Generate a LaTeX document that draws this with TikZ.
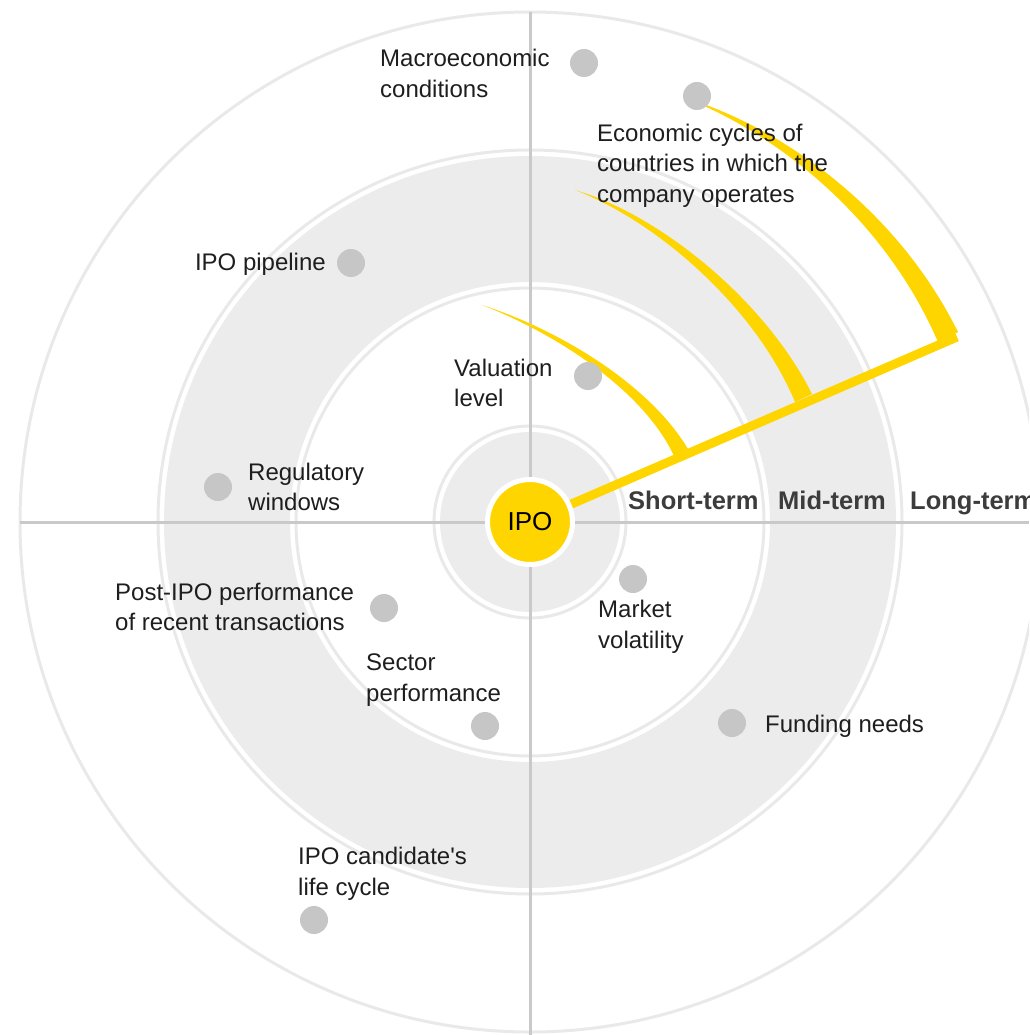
\documentclass[tikz,border=0pt]{standalone}
\usepackage{fontspec}
\setmainfont{Liberation Sans}
\usepackage{tikz}

\definecolor{EYyellow}{HTML}{FFD500}
\definecolor{bandgray}{HTML}{ECECEC}
\definecolor{ringgray}{HTML}{E9E9E9}
\definecolor{axisgray}{HTML}{C9C9C9}
\definecolor{dotgray}{HTML}{C6C6C6}
\definecolor{textblack}{HTML}{1E1E1E}
\definecolor{termgray}{HTML}{3C3C3C}

\begin{document}
\begin{tikzpicture}[x=1pt,y=-1pt]
			\tikzstyle{Ring}	= [draw=ringgray, line width=3pt]
			\tikzstyle{Band}	= [fill=bandgray]
			\tikzstyle{Axis}	= [draw=axisgray, line width=3pt]
			\tikzstyle{Arm}		= [fill=EYyellow]
			\tikzstyle{Dot}		= [circle, fill=dotgray, minimum size=28pt, inner sep=0pt]
			\tikzstyle{Label}	= [anchor=north west, align=left, inner sep=0pt, text=textblack, font=\fontsize{24}{30.7}\selectfont]
			\tikzstyle{Term}	= [anchor=base west, inner sep=0pt, text=termgray, font=\fontsize{25.5}{30}\selectfont\bfseries]
			\tikzstyle{Core}	= [circle, fill=EYyellow, draw=white, line width=5pt, minimum size=85pt, inner sep=0pt, text=black, font=\fontsize{26}{30}\selectfont]

			\useasboundingbox (0,0) rectangle (1029,1035);
			\clip (0,0) rectangle (1029,1035);

			\coordinate (c) at (530,522);
			\coordinate (top) at (530,12);
			\coordinate (bottom) at (530,1035);
			\coordinate (left) at (20,522);
			\coordinate (right) at (1029,522);
			\coordinate (lend) at (957,337);

			\draw (c) circle (510pt) [Ring];
			\fill [even odd rule] (c) circle (366pt) (c) circle (240pt) [Band];
			\draw (c) circle (372pt) [Ring];
			\draw (c) circle (234pt) [Ring];
			\fill (c) circle (90pt) [Band];
			\draw (c) circle (96pt) [Ring];

			\draw (top) -- (bottom) [Axis];
			\draw (left) -- (right) [Axis];

			\draw (c) -- (lend) [EYyellow, line width=9pt];
			\fill (482,305) .. controls (560,330) and (650,385) .. (688,449) -- (674,456) .. controls (644,391) and (557,334) .. (482,305) -- cycle [Arm];
			\fill (575,190) .. controls (660,215) and (765,300) .. (812,394) -- (795,402) .. controls (755,306) and (656,221) .. (575,190) -- cycle [Arm];
			\fill (683,97) .. controls (790,130) and (900,215) .. (958,332) -- (938,342) .. controls (887,224) and (785,137) .. (683,97) -- cycle [Arm];

			\node (ipo) at (c) [Core] {IPO};

			\node (dMacro) at (584,63) [Dot] {};
			\node (dCycles) at (697,96) [Dot] {};
			\node (dPipeline) at (351,263) [Dot] {};
			\node (dValuation) at (588,376) [Dot] {};
			\node (dRegulatory) at (218,487) [Dot] {};
			\node (dPostIPO) at (384,608) [Dot] {};
			\node (dSector) at (485,726) [Dot] {};
			\node (dVolatility) at (633,579) [Dot] {};
			\node (dFunding) at (732,723) [Dot] {};
			\node (dLifeCycle) at (314,920) [Dot] {};

			\node (tMacro) at (380,49) [Label] {Macroeconomic\\conditions};
			\node (tCycles) at (597,123.5) [Label] {Economic cycles of\\countries in which the\\company operates};
			\node (tPipeline) at (326,270) [Label, anchor=base east] {IPO pipeline};
			\node (tValuation) at (454,358.5) [Label] {Valuation\\level};
			\node (tRegulatory) at (248,462.5) [Label] {Regulatory\\windows};
			\node (tPostIPO) at (115,582.5) [Label] {Post-IPO performance\\of recent transactions};
			\node (tSector) at (366,653.5) [Label] {Sector\\performance};
			\node (tVolatility) at (598,600) [Label] {Market\\volatility};
			\node (tFunding) at (765,732) [Label, anchor=base west] {Funding needs};
			\node (tLifeCycle) at (298,847) [Label] {IPO candidate\textquotesingle s\\life cycle};

			\node (short) at (628,509) [Term] {Short-term};
			\node (mid) at (778,509) [Term] {Mid-term};
			\node (long) at (910,509) [Term] {Long-term};
\end{tikzpicture}
\end{document}
